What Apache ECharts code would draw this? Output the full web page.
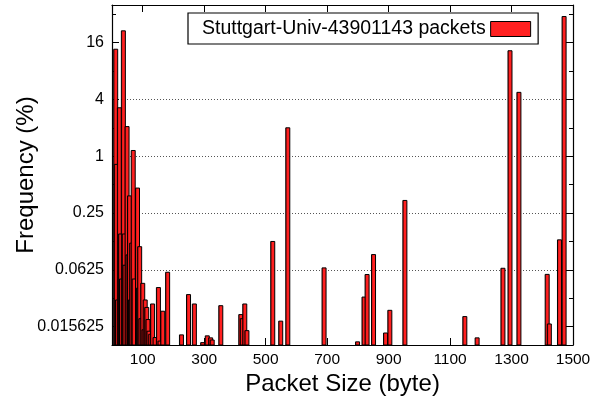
<!DOCTYPE html>
<html>
<head>
<meta charset="utf-8">
<script src="https://cdn.jsdelivr.net/npm/echarts@6/dist/echarts.min.js"></script>
<style>
  html, body { margin: 0; padding: 0; background: #fff; }
  #main { width: 592px; height: 405px; }
</style>
</head>
<body>
<div id="main"></div>
<script>
// Chart data
const seriesName = 'Stuttgart-Univ-43901143 packets';
const packetSizes = [
    12, 14, 18, 24, 28, 31, 37, 40, 42, 49, 52, 57, 60, 64, 69, 72, 83, 86, 90, 94,
    100, 104, 108, 113, 117, 120, 126, 132, 140, 151, 156, 165, 181, 226, 249, 268,
    295, 310, 321, 326, 354, 419, 424, 432, 439, 523, 549, 572, 690, 799, 820, 830,
    851, 890, 904, 953, 1148, 1188, 1272, 1295, 1324, 1416, 1423, 1456, 1471
];
const frequencies = [
    13.6, 0.82, 0.03, 3.26, 0.15, 0.05, 21.3, 0.15, 0.07, 2.06, 0.09, 0.38, 0.03, 0.12, 1.15, 0.05, 0.46, 0.04, 0.11, 0.019,
    0.045, 0.0145, 0.03, 0.025, 0.0186, 0.014, 0.013, 0.0272, 0.012, 0.0406, 0.011, 0.0228, 0.059, 0.0128, 0.0342, 0.0272,
    0.0106, 0.0125, 0.0119, 0.0113, 0.0261, 0.021, 0.019, 0.0272, 0.0142, 0.125, 0.0179, 2.0, 0.0656, 0.0108, 0.0322, 0.0558,
    0.0908, 0.0134, 0.0233, 0.34, 0.02, 0.0119, 0.065, 13.1, 4.75, 0.056, 0.0167, 0.13, 30.2
];
const xTicks = [100, 300, 500, 700, 900, 1100, 1300, 1500];
const yTicks = [0.015625, 0.0625, 0.25, 1, 4, 16];
const yMinorTicks = [0.03125, 0.125, 0.5, 2, 8, 32];

const X_MIN = 0, X_MAX = 1500;
const Y_MIN = 0.01, Y_MAX = 40;
const BAR_PX = 4;
const FONT = 'Liberation Sans, Arial, Helvetica, sans-serif';

const chart = echarts.init(document.getElementById('main'), null, { renderer: 'canvas' });

const barFill = new echarts.graphic.LinearGradient(0, 0, 1, 0, [
    { offset: 0, color: '#8e0000' },
    { offset: 0.4, color: '#ff2020' },
    { offset: 1, color: '#ff2020' }
]);

function renderBar(params, api) {
    const x = api.value(0);
    const top = api.coord([x, api.value(1)]);
    const base = api.coord([x, Y_MIN]);
    return {
        type: 'rect',
        shape: { x: top[0] - BAR_PX / 2, y: top[1], width: BAR_PX, height: base[1] - top[1] },
        style: { fill: barFill, stroke: '#000', lineWidth: 1 }
    };
}

const lineBlack = { show: true, lineStyle: { color: '#000', width: 1.2 } };

function xAxisOf(position, withLabels) {
    return {
        type: 'value', position: position, min: X_MIN, max: X_MAX,
        axisLine: lineBlack,
        axisTick: { show: true, inside: true, length: 7, customValues: xTicks, lineStyle: { color: '#000', width: 1 } },
        axisLabel: {
            show: withLabels, customValues: xTicks, fontFamily: FONT, fontSize: 15.5, color: '#000', margin: 7,
            formatter: v => String(v)
        },
        splitLine: { show: false },
        name: withLabels ? 'Packet Size (byte)' : '',
        nameLocation: 'middle', nameGap: 27, nameMoveOverlap: false,
        nameTextStyle: { fontFamily: FONT, fontSize: 24, color: '#000' }
    };
}

function yAxisOf(position, ticks, len, main) {
    return {
        type: 'log', logBase: 4, position: position, min: Y_MIN, max: Y_MAX,
        axisLine: main ? lineBlack : { show: false },
        axisTick: { show: true, inside: true, length: len, customValues: ticks, lineStyle: { color: '#000', width: 1 } },
        axisLabel: {
            show: main && position === 'left', customValues: yTicks,
            fontFamily: FONT, fontSize: 16, color: '#000', margin: 8,
            formatter: v => String(v)
        },
        splitLine: {
            show: main && position === 'left', showMinLine: false, showMaxLine: false,
            lineStyle: { color: '#555', width: 1, type: [1, 2] }
        },
        name: main && position === 'left' ? 'Frequency (%)' : '',
        nameLocation: 'middle', nameGap: 74, nameMoveOverlap: false,
        nameTextStyle: { fontFamily: FONT, fontSize: 24, color: '#000' }
    };
}

const option = {
    backgroundColor: '#fff',
    animation: false,
    grid: { left: 112, top: 5, width: 461, height: 340, containLabel: false, outerBoundsMode: 'none' },
    legend: {
        left: 188, top: 13,
        data: [{ name: seriesName, icon: 'rect' }],
        align: 'right',
        itemWidth: 40, itemHeight: 15,
        padding: [6, 7, 5, 14],
        backgroundColor: '#fff',
        borderColor: '#000', borderWidth: 1.2,
        itemStyle: { color: '#ff2020', borderColor: '#000', borderWidth: 1 },
        textStyle: { fontFamily: FONT, fontSize: 19.5, color: '#000' },
        z: 10
    },
    xAxis: [xAxisOf('bottom', true), xAxisOf('top', false)],
    yAxis: [
        yAxisOf('left', yTicks, 7, true),
        yAxisOf('left', yMinorTicks, 4, false),
        yAxisOf('right', yTicks, 7, true),
        yAxisOf('right', yMinorTicks, 4, false)
    ],
    series: [{
        name: seriesName,
        type: 'custom',
        xAxisIndex: 0, yAxisIndex: 0,
        renderItem: renderBar,
        itemStyle: { color: '#ff2020', borderColor: '#000', borderWidth: 1 },
        encode: { x: 0, y: 1 },
        data: packetSizes.map((s, i) => [s, frequencies[i]]),
        z: 3
    }]
};

chart.setOption(option);
</script>
</body>
</html>
